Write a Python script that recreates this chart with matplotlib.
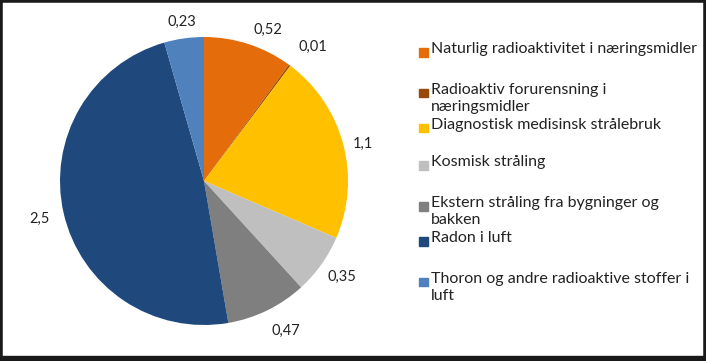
import matplotlib.pyplot as plt
from matplotlib.patches import Rectangle
import numpy as np

plt.rcParams["font.family"] = ["Lato", "DejaVu Sans"]

categories = [
    "Naturlig radioaktivitet i næringsmidler",
    "Radioaktiv forurensning i\nnæringsmidler",
    "Diagnostisk medisinsk strålebruk",
    "Kosmisk stråling",
    "Ekstern stråling fra bygninger og\nbakken",
    "Radon i luft",
    "Thoron og andre radioaktive stoffer i\nluft",
]
values = [0.52, 0.01, 1.1, 0.35, 0.47, 2.5, 0.23]
value_labels = ["0,52", "0,01", "1,1", "0,35", "0,47", "2,5", "0,23"]
colors = ["#E46C0A", "#984807", "#FFC000", "#BFBFBF", "#7F7F7F", "#1F497D", "#4F81BD"]

W, H = 706, 361
fig = plt.figure(figsize=(W / 100, H / 100), dpi=100)

# pie axes: centre (204, 181), radius 144 px
cx, cy, r = 204, 181, 144
ax = fig.add_axes([(cx - r) / W, (H - cy - r) / H, 2 * r / W, 2 * r / H])
wedges, _ = ax.pie(values, colors=colors, startangle=90, counterclock=False,
                   radius=1, wedgeprops=dict(linewidth=0))
ax.set_xlim(-1, 1)
ax.set_ylim(-1, 1)
ax.set_aspect("equal")
ax.axis("off")

# label placement (distance in radii, angle nudge in degrees), Excel "best fit" look
label_dist = [1.14, 1.2, 1.135, 1.17, 1.185, 1.17, 1.115]
label_nudge = [-5, -2.7, -1.7, 0.6, 2.7, 0, 0]
for w, lab, d, nd in zip(wedges, value_labels, label_dist, label_nudge):
    mid = np.deg2rad((w.theta1 + w.theta2) / 2 + nd)
    ax.text(d * np.cos(mid), d * np.sin(mid), lab, ha="center", va="center",
            fontsize=10.5, color="#222222", clip_on=False)

# legend
y0, step = 52, 37.8
for i, (name, col) in enumerate(zip(categories, colors)):
    y = y0 + i * step
    if "\n" in name:
        y += 3
    fig.patches.append(Rectangle((419 / W, (H - y - 4.5) / H), 8.5 / W, 8.5 / H,
                                 transform=fig.transFigure, color=col))
    fig.text(431 / W, (H - y + 10) / H, name, ha="left", va="top", fontsize=11.5,
             color="#222222", linespacing=1.25)

# outer frame
fig.patches.append(Rectangle((0, 0), 1, 1, transform=fig.transFigure, fill=False,
                             edgecolor="#1a1a1a", linewidth=4))
fig.patches.append(Rectangle((0, 0), 1, 5 / H, transform=fig.transFigure,
                             color="#1a1a1a"))

fig.savefig("out.png", dpi=100)
